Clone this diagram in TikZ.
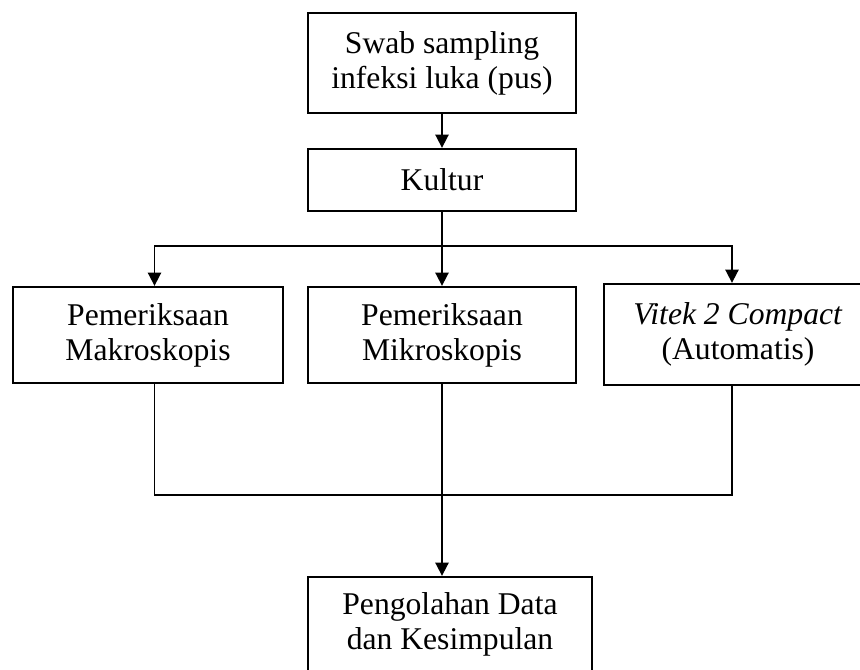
\documentclass[tikz,border=0pt]{standalone}
\usepackage{fontspec}
\setmainfont{Liberation Serif}
\usetikzlibrary{arrows.meta, calc, positioning}

\begin{document}
\begin{tikzpicture}[->,>={Triangle[length=7.5pt,width=7.5pt]},line width=1pt,font=\fontsize{18}{20}\selectfont]
	\tikzset{kotak/.style={draw, line width=1.3pt, align=center, minimum width=5.36cm, minimum height=1.92cm, inner sep=0pt}}
	\useasboundingbox (0,0) rectangle (17.2,13.4);
	\clip (0,0) rectangle (17.2,13.4);
	\node[kotak, minimum height=2cm] (0) at (8.84,12.14) {Swab sampling\\infeksi luka (pus)};
	\node[kotak, minimum height=1.24cm] (1) at (8.84,9.80) {Kultur};
	\node[kotak, minimum width=5.4cm] (2) at (2.96,6.70) {Pemeriksaan\\Makroskopis};
	\node[kotak] (3) at (8.84,6.70) {Pemeriksaan\\Mikroskopis};
	\node[kotak, minimum height=2.02cm] (4) at (14.76,6.71) {\textit{Vitek 2 Compact}\\(Automatis)};
	\node[kotak, minimum width=5.68cm, minimum height=1.9cm] (5) at (9.00,0.91) {Pengolahan Data\\dan Kesimpulan};
	\coordinate (a) at (8.84,8.48);
	\coordinate (b) at (8.84,3.50);
	\path
		(0)

			edge  (1)
		(1)

			edge[-]  (a)
		(a)

			edge  (3)
		(3)

			edge[-]  (b);
	\draw (a) -| ([xshift=0.13cm]2.north);
	\draw (a) -| ([xshift=-0.12cm]4.north);
	\draw[-] ([xshift=0.13cm]2.south) |- (b);
	\draw[-] ([xshift=-0.12cm]4.south) |- (b);
	\draw (b) -- (5.north -| b);
\end{tikzpicture}
\end{document}
